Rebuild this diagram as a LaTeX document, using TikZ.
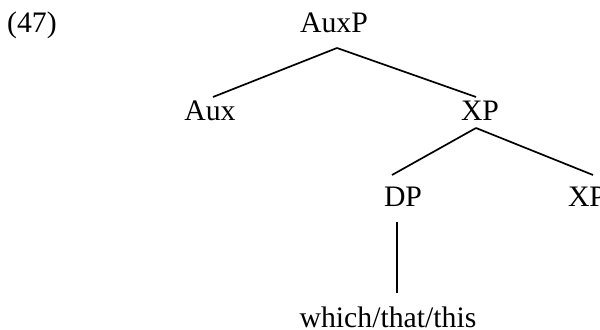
\documentclass[tikz,border=0pt]{standalone}
\usepackage{fontspec}
\setmainfont{Liberation Serif}
\usepackage{tikz}
\usetikzlibrary{calc}

\begin{document}
\begin{tikzpicture}[x=0.444pt,y=-0.444pt,font=\fontsize{13.2}{15}\selectfont,
  cat/.style={anchor=base,inner sep=0pt},
  branch/.style={line width=0.75pt}]
\useasboundingbox (0,0) rectangle (600,330);
\node[cat] (ex) at (32,33) {(47)};
\node[cat] (AuxP) at (334,33) {AuxP};
\node[cat] (Aux) at (210,121) {Aux};
\node[cat] (XP) at (480,121) {XP};
\node[cat] (DP) at (403,206) {DP};
\node[cat] (XPr) at (587,206) {XP};
\node[cat] (word) at (388,327) {which/that/this};
% branches
\draw[branch] ($(AuxP.base)+(3,15)$) -- ($(Aux.base)+(3,-24)$);
\draw[branch] ($(AuxP.base)+(3,15)$) -- ($(XP.base)+(-4,-24)$);
\draw[branch] ($(XP.base)+(-4,7)$) -- ($(DP.base)+(-11,-31)$);
\draw[branch] ($(XP.base)+(-4,7)$) -- ($(XPr.base)+(6,-31)$);
\draw[branch] ($(DP.base)+(-6,16)$) -- ($(word.base)+(9,-34)$);
\end{tikzpicture}
\end{document}
